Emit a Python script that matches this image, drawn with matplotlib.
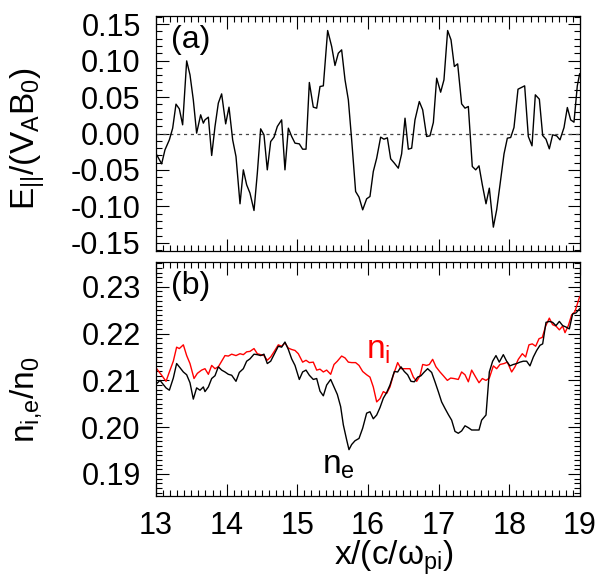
import matplotlib
matplotlib.use("Agg")
import matplotlib.pyplot as plt
from matplotlib.ticker import MultipleLocator

plt.rcParams["font.family"] = ["Liberation Sans", "DejaVu Sans"]
plt.rcParams["mathtext.fontset"] = "custom"
plt.rcParams["mathtext.rm"] = "Liberation Sans"
plt.rcParams["mathtext.it"] = "Liberation Sans:italic"
plt.rcParams["font.size"] = 22

# panel (a): parallel electric field
e_x = [13.01, 13.08, 13.127, 13.189, 13.236, 13.283, 13.33, 13.377, 13.434, 13.481,
       13.528, 13.575, 13.632, 13.67, 13.693, 13.741, 13.788, 13.835, 13.882, 13.929,
       13.986, 14.033, 14.085, 14.132, 14.189, 14.236, 14.283, 14.33, 14.387, 14.434,
       14.481, 14.528, 14.575, 14.623, 14.67, 14.717, 14.778, 14.825, 14.873, 14.92,
       14.967, 15.028, 15.075, 15.123, 15.17, 15.226, 15.274, 15.321, 15.368, 15.429,
       15.486, 15.533, 15.58, 15.627, 15.675, 15.722, 15.769, 15.825, 15.873, 15.925,
       15.981, 16.028, 16.075, 16.123, 16.179, 16.226, 16.274, 16.321, 16.373, 16.429,
       16.476, 16.524, 16.571, 16.618, 16.665, 16.726, 16.774, 16.83, 16.877, 16.925,
       16.972, 17.028, 17.075, 17.127, 17.175, 17.222, 17.269, 17.325, 17.373, 17.42,
       17.476, 17.524, 17.571, 17.618, 17.67, 17.717, 17.774, 17.821, 17.868, 17.925,
       17.972, 18.019, 18.066, 18.123, 18.17, 18.217, 18.269, 18.321, 18.368, 18.425,
       18.472, 18.519, 18.566, 18.613, 18.67, 18.717, 18.774, 18.821, 18.868, 18.915,
       18.962, 18.995]
e_par = [-0.0292, -0.0416, -0.0224, -0.0087, 0.0073, 0.0402, 0.0338, 0.0119, 0.0995, 0.0804,
         0.0461, 0.0005, 0.0256, 0.0142, 0.0187, 0.0224, -0.0301, 0.0096, 0.0416, 0.0543,
         0.0132, 0.0361, -0.0087, -0.0315, -0.0963, -0.0498, -0.0703, -0.0817, -0.1055, -0.0543,
         0.0064, -0.0018, -0.0498, -0.011, -0.005, 0.0096, 0.0187, -0.0498, 0.0073, -0.0041,
         -0.0132, -0.0142, -0.0215, -0.0215, 0.0699, 0.0361, 0.0347, 0.0644, 0.0653, 0.1411,
         0.1192, 0.0932, 0.11, 0.1146, 0.0735, 0.0461, -0.0087, -0.0795, -0.0872, -0.1046,
         -0.0895, -0.0863, -0.0521, -0.0338, -0.005, -0.0078, -0.0059, -0.0347, -0.0406, -0.0475,
         -0.0279, 0.021, -0.0215, -0.0201, 0.0187, 0.0438, 0.0324, -0.0041, -0.0032, 0.0151,
         0.0758, 0.0566, 0.0735, 0.1411, 0.1283, 0.0918, 0.0954, 0.0406, 0.0347, 0.037,
         -0.0452, -0.0498, -0.0443, -0.0703, -0.0963, -0.0749, -0.1283, -0.1046, -0.0703, -0.0279,
         -0.0064, -0.0055, 0.0082, 0.0607, 0.063, 0.0653, -0.0041, -0.0169, 0.053, 0.047,
         -0.0027, -0.0078, -0.021, -0.0018, -0.0032, -0.0087, 0.0082, 0.0356, 0.0187, 0.0155,
         0.0653, 0.0817]

# panel (b): ion density
ni_x = [13.009, 13.08, 13.142, 13.189, 13.245, 13.292, 13.33, 13.387, 13.434, 13.481,
        13.538, 13.585, 13.646, 13.693, 13.741, 13.788, 13.835, 13.882, 13.929, 13.976,
        14.024, 14.071, 14.132, 14.189, 14.236, 14.283, 14.33, 14.387, 14.434, 14.481,
        14.528, 14.575, 14.623, 14.67, 14.731, 14.778, 14.825, 14.873, 14.92, 14.967,
        15.014, 15.075, 15.123, 15.17, 15.226, 15.274, 15.321, 15.368, 15.415, 15.472,
        15.519, 15.566, 15.627, 15.675, 15.722, 15.769, 15.825, 15.873, 15.925, 15.981,
        16.028, 16.075, 16.123, 16.17, 16.217, 16.264, 16.311, 16.358, 16.42, 16.467,
        16.524, 16.594, 16.642, 16.689, 16.736, 16.774, 16.83, 16.868, 16.915, 16.962,
        17.019, 17.066, 17.123, 17.17, 17.217, 17.278, 17.325, 17.373, 17.42, 17.467,
        17.524, 17.571, 17.618, 17.67, 17.717, 17.774, 17.821, 17.868, 17.925, 17.972,
        18.033, 18.08, 18.127, 18.184, 18.231, 18.278, 18.325, 18.373, 18.42, 18.467,
        18.514, 18.566, 18.613, 18.66, 18.708, 18.755, 18.788, 18.835, 18.882, 18.929,
        18.995]
n_i = [0.2125, 0.2111, 0.2098, 0.2118, 0.2141, 0.2171, 0.2168, 0.2176, 0.2153, 0.2136,
       0.2104, 0.2115, 0.2122, 0.2125, 0.2113, 0.2132, 0.2125, 0.2129, 0.2141, 0.2153,
       0.2152, 0.2156, 0.2153, 0.2157, 0.2155, 0.2161, 0.2162, 0.2168, 0.2157, 0.2155,
       0.2153, 0.2143, 0.215, 0.2161, 0.2176, 0.2173, 0.218, 0.2169, 0.2166, 0.2164,
       0.2157, 0.2139, 0.2143, 0.2138, 0.2139, 0.2122, 0.2124, 0.2118, 0.2122, 0.2113,
       0.2134, 0.2141, 0.2152, 0.2148, 0.2139, 0.2138, 0.2138, 0.2132, 0.2119, 0.2112,
       0.2107, 0.2086, 0.2054, 0.2061, 0.2076, 0.2072, 0.2086, 0.2111, 0.2138, 0.2125,
       0.2125, 0.2125, 0.2107, 0.2098, 0.211, 0.2134, 0.2132, 0.2134, 0.2145, 0.2129,
       0.2118, 0.211, 0.21, 0.2105, 0.2104, 0.2102, 0.2118, 0.2112, 0.2097, 0.2122,
       0.2107, 0.2095, 0.2104, 0.21, 0.2105, 0.2131, 0.2125, 0.2134, 0.2136, 0.2139,
       0.2118, 0.2129, 0.2145, 0.2157, 0.215, 0.2176, 0.2178, 0.2173, 0.2189, 0.2192,
       0.2216, 0.2233, 0.2219, 0.2216, 0.2208, 0.2216, 0.2202, 0.2217, 0.224, 0.2247,
       0.2279]

# panel (b): electron density
ne_x = [13.009, 13.057, 13.094, 13.142, 13.189, 13.245, 13.292, 13.34, 13.387, 13.434,
        13.481, 13.528, 13.575, 13.623, 13.67, 13.693, 13.741, 13.788, 13.835, 13.882,
        13.929, 13.976, 14.024, 14.071, 14.132, 14.179, 14.236, 14.283, 14.33, 14.387,
        14.434, 14.481, 14.528, 14.575, 14.623, 14.67, 14.731, 14.778, 14.825, 14.873,
        14.92, 14.967, 15.028, 15.075, 15.123, 15.17, 15.226, 15.274, 15.321, 15.368,
        15.415, 15.472, 15.519, 15.566, 15.613, 15.651, 15.698, 15.731, 15.769, 15.816,
        15.873, 15.925, 15.981, 16.028, 16.075, 16.123, 16.17, 16.217, 16.264, 16.311,
        16.373, 16.42, 16.467, 16.514, 16.561, 16.608, 16.656, 16.703, 16.75, 16.797,
        16.844, 16.901, 16.948, 16.995, 17.042, 17.09, 17.137, 17.184, 17.231, 17.278,
        17.325, 17.373, 17.42, 17.467, 17.514, 17.571, 17.608, 17.67, 17.717, 17.764,
        17.811, 17.858, 17.915, 17.962, 18.009, 18.057, 18.104, 18.151, 18.198, 18.245,
        18.292, 18.34, 18.387, 18.434, 18.472, 18.519, 18.566, 18.613, 18.66, 18.708,
        18.755, 18.802, 18.849, 18.896, 18.943, 18.995]
n_e = [0.2093, 0.21, 0.2093, 0.2084, 0.2079, 0.2105, 0.2136, 0.2127, 0.2118, 0.2112,
       0.2095, 0.206, 0.2084, 0.2079, 0.2086, 0.2076, 0.2086, 0.2104, 0.211, 0.2129,
       0.2122, 0.2118, 0.2113, 0.2111, 0.2098, 0.2117, 0.2125, 0.2141, 0.2146, 0.2156,
       0.2155, 0.2153, 0.2156, 0.2136, 0.2141, 0.2155, 0.2173, 0.2171, 0.2182, 0.2166,
       0.2146, 0.2132, 0.2102, 0.2118, 0.2122, 0.2111, 0.2102, 0.2104, 0.2077, 0.2067,
       0.209, 0.2102, 0.2086, 0.207, 0.2044, 0.2005, 0.1973, 0.1952, 0.1963, 0.1971,
       0.1976, 0.1998, 0.203, 0.2033, 0.2018, 0.2026, 0.2042, 0.2062, 0.2074, 0.209,
       0.2119, 0.2118, 0.2129, 0.2119, 0.2112, 0.2098, 0.2097, 0.2107, 0.211, 0.2118,
       0.2125, 0.2117, 0.2097, 0.2076, 0.2054, 0.204, 0.2027, 0.2015, 0.1991, 0.1987,
       0.1992, 0.2003, 0.1999, 0.1994, 0.1994, 0.1994, 0.2015, 0.2026, 0.2118, 0.2141,
       0.2153, 0.2139, 0.2155, 0.2141, 0.2131, 0.2134, 0.2136, 0.2139, 0.2141, 0.2141,
       0.2131, 0.215, 0.2164, 0.2175, 0.2178, 0.2224, 0.2226, 0.2224, 0.2217, 0.2226,
       0.2217, 0.2214, 0.221, 0.2242, 0.2244, 0.2253]

x_ticks = [13, 14, 15, 16, 17, 18, 19]
e_ticks = [-0.15, -0.10, -0.05, 0.00, 0.05, 0.10, 0.15]
n_ticks = [0.19, 0.20, 0.21, 0.22, 0.23]


def style_axis(ax, y_minor):
    ax.xaxis.set_minor_locator(MultipleLocator(0.1))
    ax.yaxis.set_minor_locator(MultipleLocator(y_minor))
    ax.tick_params(which="both", direction="in", top=True, right=True, width=0.8)
    ax.tick_params(which="major", length=9, pad=11)
    ax.tick_params(which="minor", length=4)
    for s in ax.spines.values():
        s.set_linewidth(0.9)


fig = plt.figure(figsize=(5.97, 5.84), dpi=100)
ax1 = fig.add_axes([0.2613, 0.5702, 0.7102, 0.4024])
ax2 = fig.add_axes([0.2613, 0.1507, 0.7102, 0.4007])

# (a)
ax1.axhline(0, color="#444444", lw=0.9, ls=(0, (2.5, 3)))
ax1.plot(e_x, e_par, color="black", lw=1.0)
ax1.set_xlim(13, 19)
ax1.set_ylim(-0.161, 0.161)
ax1.set_xticks(x_ticks)
ax1.set_xticklabels([])
ax1.set_yticks(e_ticks)
ax1.set_yticklabels([f"{v:.2f}" for v in e_ticks])
style_axis(ax1, 0.01)
ax1.set_ylabel(r"E$_{\mathrm{||}}$/(V$_{\mathrm{A}}$B$_{\mathrm{0}}$)", fontsize=24)
ax1.yaxis.set_label_coords(-0.258, 0.477)
ax1.text(0.036, 0.90, "(a)", transform=ax1.transAxes, fontsize=23, va="center", ha="left")

# (b)
ax2.plot(ni_x, n_i, color="#ff0000", lw=1.0)
ax2.plot(ne_x, n_e, color="black", lw=1.0)
ax2.set_xlim(13, 19)
ax2.set_ylim(0.1853, 0.2353)
ax2.set_xticks(x_ticks)
ax2.set_yticks(n_ticks)
ax2.set_yticklabels([f"{v:.2f}" for v in n_ticks])
style_axis(ax2, 0.001)
ax2.set_ylabel(r"n$_{\mathrm{i{,}e}}$/n$_{\mathrm{0}}$", fontsize=24)
ax2.yaxis.set_label_coords(-0.265, 0.413)
ax2.set_xlabel(r"x/(c/$\mathrm{\omega_{pi}}$)", fontsize=24)
ax2.xaxis.set_label_coords(0.561, -0.183)
ax2.text(0.036, 0.898, "(b)", transform=ax2.transAxes, fontsize=23, va="center", ha="left")
ax2.text(16.14, 0.2164, r"n$_{\mathrm{i}}$", color="#ff0000", fontsize=24, ha="center", va="center")
ax2.text(15.58, 0.1918, r"n$_{\mathrm{e}}$", color="black", fontsize=24, ha="center", va="center")

fig.savefig("out.png", dpi=100)
